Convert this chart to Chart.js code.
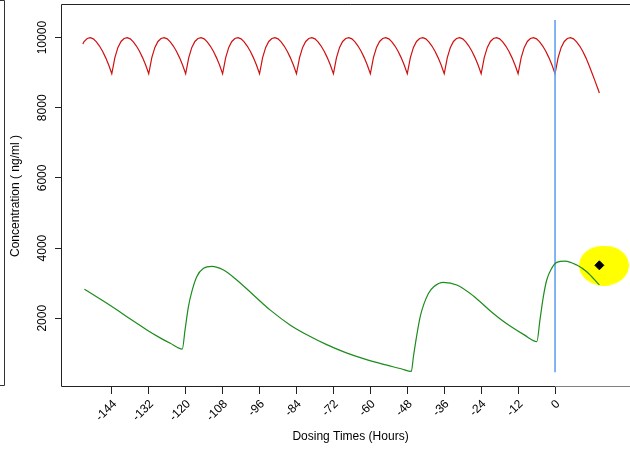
<!DOCTYPE html>
<html>
<head>
<meta charset="utf-8">
<script src="https://cdn.jsdelivr.net/npm/chart.js@4.4.1/dist/chart.umd.min.js"></script>
<style>
  html, body { margin: 0; padding: 0; background: #fff; overflow: hidden; }
  #wrap { width: 640px; height: 450px; }
</style>
</head>
<body>
<div id="wrap"><canvas id="concChart" width="640" height="450"></canvas></div>
<script>
// axis ticks (hours relative to the last dose, ng/ml)
const xTicks = [-144, -132, -120, -108, -96, -84, -72, -60, -48, -36, -24, -12, 0];
const yTicks = [2000, 4000, 6000, 8000, 10000];

// drug 1, dosed every 12 h
const redHours = [
  -153.4, -153, -152, -151, -150, -149, -148, -147, -146, -145,
  -144, -143, -142, -141, -140, -139, -138, -137, -136, -135, -134, -133,
  -132, -131, -130, -129, -128, -127, -126, -125, -124, -123, -122, -121,
  -120, -119, -118, -117, -116, -115, -114, -113, -112, -111, -110, -109,
  -108, -107, -106, -105, -104, -103, -102, -101, -100, -99, -98, -97,
  -96, -95, -94, -93, -92, -91, -90, -89, -88, -87, -86, -85,
  -84, -83, -82, -81, -80, -79, -78, -77, -76, -75, -74, -73,
  -72, -71, -70, -69, -68, -67, -66, -65, -64, -63, -62, -61,
  -60, -59, -58, -57, -56, -55, -54, -53, -52, -51, -50, -49,
  -48, -47, -46, -45, -44, -43, -42, -41, -40, -39, -38, -37,
  -36, -35, -34, -33, -32, -31, -30, -29, -28, -27, -26, -25,
  -24, -23, -22, -21, -20, -19, -18, -17, -16, -15, -14, -13,
  -12, -11, -10, -9, -8, -7, -6, -5, -4, -3, -2, -1,
  0, 1, 2, 3, 4, 5, 6, 7, 8, 9, 10, 11, 12, 13, 14, 14.4
];
const redConc = [
  9815, 9890, 9975, 10000, 9965, 9880, 9760, 9610, 9430, 9220,
  8970, 9430, 9720, 9890, 9975, 10000, 9965, 9880, 9760, 9610, 9430, 9220,
  8970, 9430, 9720, 9890, 9975, 10000, 9965, 9880, 9760, 9610, 9430, 9220,
  8970, 9430, 9720, 9890, 9975, 10000, 9965, 9880, 9760, 9610, 9430, 9220,
  8970, 9430, 9720, 9890, 9975, 10000, 9965, 9880, 9760, 9610, 9430, 9220,
  8970, 9430, 9720, 9890, 9975, 10000, 9965, 9880, 9760, 9610, 9430, 9220,
  8970, 9430, 9720, 9890, 9975, 10000, 9965, 9880, 9760, 9610, 9430, 9220,
  8970, 9430, 9720, 9890, 9975, 10000, 9965, 9880, 9760, 9610, 9430, 9220,
  8970, 9430, 9720, 9890, 9975, 10000, 9965, 9880, 9760, 9610, 9430, 9220,
  8970, 9430, 9720, 9890, 9975, 10000, 9965, 9880, 9760, 9610, 9430, 9220,
  8970, 9430, 9720, 9890, 9975, 10000, 9965, 9880, 9760, 9610, 9430, 9220,
  8970, 9430, 9720, 9890, 9975, 10000, 9965, 9880, 9760, 9610, 9430, 9220,
  8970, 9430, 9720, 9890, 9975, 10000, 9965, 9880, 9760, 9610, 9430, 9220,
  8970, 9430, 9720, 9890, 9975, 10000, 9965, 9880, 9760, 9610, 9430, 9220, 8990, 8760, 8520, 8420
];

// drug 2, irregular doses
const greenHours = [
  -152.9, -150, -147, -144.6, -142, -139.1, -136, -132.6, -128.3, -125, -121.1,
  -120.2, -119.1, -118, -116.4, -114.2, -111.5, -107.7, -103.4, -98, -92.6, -86.1,
  -80, -74, -68, -62, -56, -50, -46.7,
  -46, -44.9, -43.8, -42.7, -41.1, -39.4, -36.3, -31.9, -26.5, -21.1, -17.9, -14.6, -10, -5.9,
  -4.9, -3.8, -2.7, -1.1, 0.55, 3.25, 7.05, 10.3, 14.4
];
const greenConc = [
  2826, 2670, 2505, 2370, 2218, 2045, 1862, 1665, 1440, 1285, 1120,
  1669, 2332, 2758, 3185, 3423, 3480, 3375, 3091, 2664, 2238, 1811,
  1500, 1240, 1020, 840, 690, 560, 483,
  910, 1527, 2047, 2380, 2713, 2900, 3025, 2949, 2636, 2214, 1985, 1777, 1526, 1336,
  1953, 2616, 3091, 3423, 3594, 3631, 3517, 3327, 2949
];

// current time marker and measured sample
const nowHours = [0, 0];
const nowConc = [10500, 460];
const sampleHours = [14.4];
const sampleConc = [3509];
const haloHours = [15.9];
const haloConc = [3503];

const toPoints = (xs, ys) => xs.map((x, i) => ({ x: x, y: ys[i] }));

// yellow oval behind the sample point
const halo = document.createElement('canvas');
halo.width = 50;
halo.height = 40;
const hctx = halo.getContext('2d');
hctx.fillStyle = '#ffff00';
hctx.beginPath();
hctx.ellipse(25, 20, 25, 20, 0, 0, Math.PI * 2);
hctx.fill();

Chart.defaults.font.family = "'Liberation Sans', Arial, sans-serif";
Chart.defaults.font.size = 12;
Chart.defaults.color = '#000';

const framePlugin = {
  id: 'frame',
  afterDraw(chart) {
    const { ctx, chartArea: { left, top, right, bottom } } = chart;
    const zero = Math.round(chart.scales.x.getPixelForValue(0));
    ctx.save();
    ctx.lineWidth = 1;
    ctx.strokeStyle = '#222';
    ctx.beginPath();
    ctx.moveTo(left + 0.5, bottom - 0.5);
    ctx.lineTo(left + 0.5, top - 0.5);
    ctx.lineTo(right, top - 0.5);
    ctx.moveTo(left + 0.5, bottom - 0.5);
    ctx.lineTo(zero + 0.5, bottom - 0.5);
    ctx.stroke();
    ctx.strokeStyle = '#808080';
    ctx.beginPath();
    ctx.moveTo(zero + 0.5, bottom - 0.5);
    ctx.lineTo(right, bottom - 0.5);
    ctx.stroke();
    // edge of the neighbouring panel
    ctx.strokeStyle = '#333';
    ctx.beginPath();
    ctx.moveTo(0, 0.5);
    ctx.lineTo(4.5, 0.5);
    ctx.lineTo(4.5, bottom - 1.5);
    ctx.lineTo(0, bottom - 1.5);
    ctx.stroke();
    ctx.restore();
  }
};

new Chart(document.getElementById('concChart'), {
  type: 'line',
  data: {
    datasets: [
      {
        data: toPoints(sampleHours, sampleConc),
        showLine: false,
        pointStyle: 'rectRot',
        pointRadius: 4.5,
        pointBackgroundColor: '#000',
        pointBorderColor: '#000',
        pointBorderWidth: 1
      },
      {
        data: toPoints(greenHours, greenConc),
        borderColor: '#1c8c1c',
        borderWidth: 1.2,
        pointRadius: 0,
        cubicInterpolationMode: 'monotone'
      },
      {
        data: toPoints(nowHours, nowConc),
        borderColor: '#62a2f2',
        borderWidth: 1.6,
        pointRadius: 0
      },
      {
        data: toPoints(redHours, redConc),
        borderColor: '#d01010',
        borderWidth: 1.2,
        pointRadius: 0,
        tension: 0
      },
      {
        data: toPoints(haloHours, haloConc),
        showLine: false,
        pointStyle: halo,
        pointRadius: 25
      }
    ]
  },
  options: {
    responsive: false,
    animation: false,
    layout: { autoPadding: false, padding: { top: 5, left: 0, right: 0, bottom: 0 } },
    plugins: {
      legend: { display: false },
      tooltip: { enabled: false }
    },
    scales: {
      x: {
        type: 'linear',
        min: -160.5,
        max: 27.6,
        afterBuildTicks: scale => { scale.ticks = xTicks.map(v => ({ value: v })); },
        afterFit: scale => {
          scale.height = 63;
          scale.paddingLeft = 0;
          scale.paddingRight = 0;
        },
        border: { display: false },
        grid: { drawOnChartArea: false, tickLength: 7, color: '#222' },
        ticks: {
          autoSkip: false,
          minRotation: 45,
          maxRotation: 45,
          padding: 3,
          labelOffset: 3,
          callback: v => String(v)
        },
        title: {
          display: true,
          text: 'Dosing Times (Hours)',
          padding: { top: 0, bottom: 6 }
        }
      },
      y: {
        min: 40,
        max: 10930,
        afterBuildTicks: scale => { scale.ticks = yTicks.map(v => ({ value: v })); },
        afterFit: scale => {
          scale.width = 61;
          scale.paddingTop = 0;
          scale.paddingBottom = 0;
        },
        border: { display: false },
        grid: { drawOnChartArea: false, tickLength: 6, color: '#222' },
        ticks: {
          minRotation: 90,
          maxRotation: 90,
          crossAlign: 'center',
          padding: -4,
          callback: v => String(v)
        },
        title: {
          display: true,
          text: 'Concentration ( ng/ml )',
          padding: { top: 8, bottom: 0 }
        }
      }
    }
  },
  plugins: [framePlugin]
});
</script>
</body>
</html>
